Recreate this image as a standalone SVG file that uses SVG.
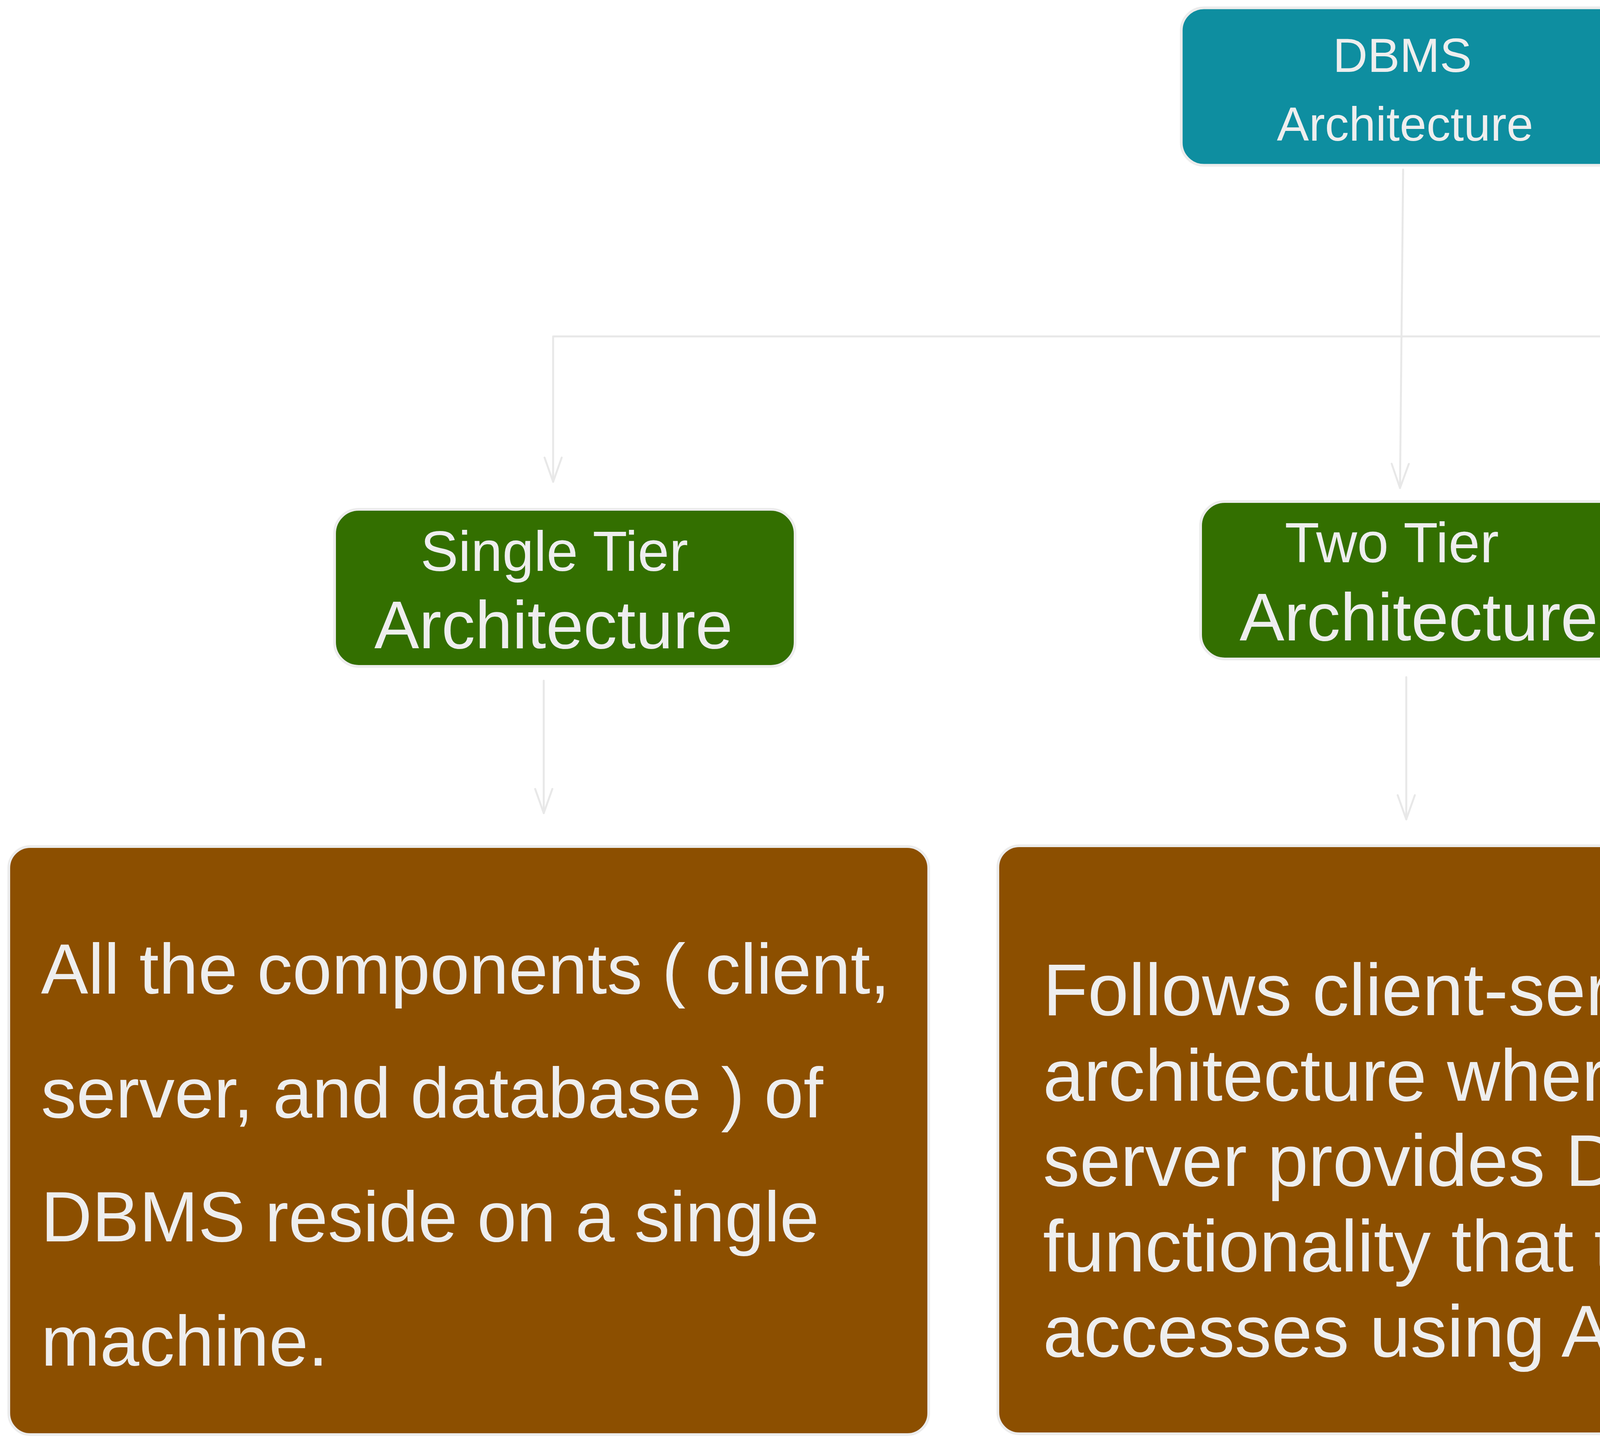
<svg xmlns="http://www.w3.org/2000/svg" width="7486" height="3693" viewBox="0 0 7486 3693">
  <style>
    .bg { fill: #ffffff; }
    .box { stroke: #ececec; stroke-width: 7; }
    .root { fill: #0e8ea0; }
    .tier { fill: #336f00; }
    .desc { fill: #8c4f00; }
    text { font-family: "Liberation Sans", Arial, sans-serif; fill: #eeeeee; }
    .c { text-anchor: middle; }
    .conn { fill: none; stroke: #e8e8e8; stroke-width: 5; stroke-linecap: round; stroke-linejoin: round; }
  </style>
  <defs>
    <marker id="arrow" markerUnits="userSpaceOnUse" viewBox="-70 -30 80 60" refX="0" refY="0" markerWidth="80" markerHeight="60" orient="auto">
      <path d="M-62,-22 L0,0 L-62,22" fill="none" stroke="#e8e8e8" stroke-width="5" stroke-linecap="round" stroke-linejoin="round"/>
    </marker>
  </defs>
  <rect class="bg" x="0" y="0" width="7486" height="3693"/>

  <g id="connectors">
    <path class="conn" d="M3592,434 L3584,1249" marker-end="url(#arrow)"/>
    <path class="conn" d="M3590,861 H1416 V1233" marker-end="url(#arrow)"/>
    <path class="conn" d="M3590,861 H6032 V1209" marker-end="url(#arrow)"/>
    <path class="conn" d="M1392,1742 V2081" marker-end="url(#arrow)"/>
    <path class="conn" d="M3600,1733 V2097" marker-end="url(#arrow)"/>
    <path class="conn" d="M6007,1711 V2057" marker-end="url(#arrow)"/>
  </g>

  <g id="dbms-architecture">
    <rect class="box root" x="3024" y="20" width="1167" height="403" rx="58" ry="58"/>
    <text class="c" x="3590" y="184" font-size="123">DBMS</text>
    <text class="c" x="3597" y="360" font-size="123">Architecture</text>
  </g>

  <g id="single-tier">
    <rect class="box tier" x="856.5" y="1303.5" width="1179" height="402" rx="62" ry="62"/>
    <text class="c" x="1419" y="1461" font-size="145">Single Tier</text>
    <text class="c" x="1417" y="1659" font-size="172">Architecture</text>
  </g>

  <g id="two-tier">
    <rect class="box tier" x="3073.5" y="1283.5" width="1178" height="403" rx="62" ry="62"/>
    <text class="c" x="3563" y="1439" font-size="145">Two Tier</text>
    <text class="c" x="3632" y="1639" font-size="172">Architecture</text>
  </g>

  <g id="three-tier">
    <rect class="box tier" x="5468.5" y="1281.5" width="1178" height="402" rx="62" ry="62"/>
    <text class="c" x="6015" y="1437" font-size="145">Three Tier</text>
    <text class="c" x="6027" y="1636" font-size="172">Architecture</text>
  </g>

  <g id="single-tier-desc">
    <rect class="box desc" x="22.5" y="2166.5" width="2355" height="1505" rx="55" ry="55"/>
    <text x="105" y="2543" font-size="181">All the components ( client,</text>
    <text x="105" y="2860" font-size="181">server, and database ) of</text>
    <text x="105" y="3177" font-size="181">DBMS reside on a single</text>
    <text x="105" y="3495" font-size="181">machine.</text>
  </g>

  <g id="two-tier-desc">
    <rect class="box desc" x="2554.5" y="2164.5" width="2358" height="1505" rx="55" ry="55"/>
    <text x="2670" y="2598" font-size="188">Follows client-server</text>
    <text x="2670" y="2817" font-size="188">architecture where the</text>
    <text x="2670" y="3035" font-size="188">server provides DBMS</text>
    <text x="2670" y="3254" font-size="188">functionality that the client</text>
    <text x="2670" y="3472" font-size="188">accesses using APIs.</text>
  </g>

  <g id="three-tier-desc">
    <rect class="box desc" x="5109.5" y="2148.5" width="2358" height="1506" rx="55" ry="55"/>
    <text x="5240" y="2574" font-size="169">It consists of Application</text>
    <text x="5240" y="2769" font-size="169">Layer in addition to Client</text>
    <text x="5240" y="2964" font-size="169">and Server to provide load</text>
    <text x="5240" y="3159" font-size="169">alancing and enhance DBMS</text>
    <text x="5240" y="3354" font-size="169">security.</text>
  </g>
</svg>
